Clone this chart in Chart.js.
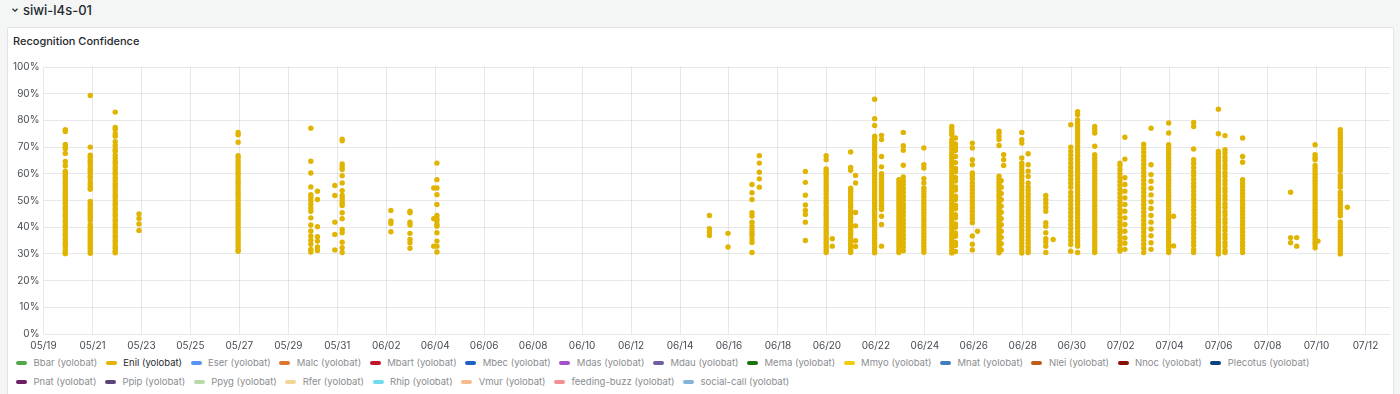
<!DOCTYPE html>
<html>
<head>
<meta charset="utf-8">
<title>siwi-l4s-01 - Recognition Confidence</title>
<script src="https://cdn.jsdelivr.net/npm/chart.js@4.4.0/dist/chart.umd.min.js"></script>
<style>
  html, body { margin: 0; padding: 0; }
  body {
    width: 1400px; height: 394px; overflow: hidden; position: relative;
    background: #f4f5f5; font-family: Inter, "Noto Sans", sans-serif; color: #24292e;
  }
  #row-title {
    position: absolute; left: 11px; top: 1px; height: 18px;
    display: flex; align-items: center; font-size: 13px; font-weight: 500;
  }
  #row-title svg { margin-right: 4px; }
  #panel {
    position: absolute; left: 7px; top: 27px; width: 1385px; height: 380px;
    background: #fff; border: 1px solid #e1e3e6; border-radius: 2px;
  }
  #panel-title {
    position: absolute; left: 13px; top: 33px; font-size: 11px; font-weight: 500; line-height: 16px;
  }
  #chart-box { position: absolute; left: 0; top: 52px; width: 1400px; height: 300px; }
  #legend {
    position: absolute; left: 16px; top: 353px; width: 1376px;
    display: flex; flex-wrap: wrap; font-size: 9.5px; color: #8a8d91;
  }
  .item { display: flex; align-items: center; height: 19px; margin-right: 8.5px; }
  .item i { display: inline-block; width: 11px; height: 4px; border-radius: 2px; margin-right: 6.5px; }
  .item.on { color: #24292e; }
</style>
</head>
<body>
<div id="row-title">
  <svg width="8" height="8" viewBox="0 0 8 8"><path d="M1.5 2.8 L4 5.2 L6.5 2.8" fill="none" stroke="#24292e" stroke-width="1.2"/></svg>
  <span>siwi-l4s-01</span>
</div>
<div id="panel"></div>
<div id="panel-title">Recognition Confidence</div>
<div id="chart-box"><canvas id="scatterChart" width="1400" height="300"></canvas></div>
<div id="legend"></div>

<script>
const seriesNames = ["Bbar", "Enil", "Eser", "Malc", "Mbart", "Mbec", "Mdas", "Mdau", "Mema", "Mmyo", "Mnat",
  "Nlei", "Nnoc", "Plecotus", "Pnat", "Ppip", "Ppyg", "Rfer", "Rhip", "Vmur", "feeding-buzz", "social-call"];
const seriesColors = ["#56a64b", "#e0b400", "#5794f2", "#e0752d", "#c4162a", "#1f60c4", "#a352cc", "#705da0",
  "#19730e", "#f2cc0c", "#447ebc", "#c15c17", "#890f02", "#0a437c", "#6d1f62", "#584477", "#b7dbab", "#f4d598",
  "#70dbed", "#f9ba8f", "#f29191", "#82b5d8"];
const tickLabels = ["05/19", "05/21", "05/23", "05/25", "05/27", "05/29", "05/31", "06/02", "06/04", "06/06",
  "06/08", "06/10", "06/12", "06/14", "06/16", "06/18", "06/20", "06/22", "06/24", "06/26", "06/28", "06/30",
  "07/02", "07/04", "07/06", "07/08", "07/10", "07/12"];

// Enil detections, grouped by recording session: days after 05/19 00:00, confidence in %
const sessionDays = [0.89, 1.91, 2.93, 3.90, 7.95, 10.92, 11.19, 11.90, 12.20, 14.19, 14.97, 15.94, 16.07,
  27.20, 27.96, 28.94, 29.24, 31.12, 31.97, 32.22, 32.97, 33.17, 33.95, 34.23, 34.94, 35.12, 35.96, 37.10,
  37.25, 37.94, 38.15, 39.03, 39.12, 39.22, 39.96, 40.22, 40.94, 41.24, 41.96, 42.24, 42.94, 43.97, 44.17,
  44.94, 45.24, 45.96, 46.16, 46.98, 47.99, 48.26, 48.98, 50.94, 51.19, 51.94, 52.06, 52.97, 53.26];
const sessionScores = [
  [76.5, 75.8, 71, 70, 69.4, 67.6, 64.6, 63, 61, 60.2, 59.3, 58.5, 57.4, 56.6, 55.5, 54.7, 53.6, 52.8, 51.9, 51.2, 50.3, 49.4, 48.6, 47.5, 46.7, 45.8, 44.6, 43.9, 42.8, 41.9, 40.7, 39.8, 38.9, 37.6, 36.8, 35.7, 34.5, 33.6, 32.7, 31.5, 30.6, 30.1],
  [89.3, 70, 67, 66.2, 65.1, 64.2, 63.3, 62.1, 61.2, 60.4, 59.1, 58.3, 56.9, 56, 55.1, 54.2, 49.6, 48.8, 47.9, 47, 46.1, 45.2, 44.3, 43.4, 42.5, 40.9, 40.1, 39.2, 38.3, 37.4, 36.5, 35.6, 34.7, 33.8, 32.9, 32, 31.1, 30.2],
  [83.1, 77.4, 76.6, 75, 74.1, 72, 70.6, 69.2, 68.4, 67, 65.8, 64.7, 63.8, 62.6, 61.7, 60.6, 59.7, 58.5, 57.6, 56.4, 55.5, 54.4, 53.3, 52.2, 51.3, 50.2, 49.1, 48.2, 47.1, 46.2, 45.1, 44.2, 43, 42.1, 41, 40.1, 39, 38.1, 37, 36.1, 35, 34.1, 33, 32.1, 31, 30.4],
  [45, 43.3, 41.2, 38.8],
  [75.5, 74.6, 71.8, 66.8, 65.9, 64.8, 63.9, 62.7, 61.6, 60.5, 59.6, 58.4, 57.3, 56.4, 55.2, 54.1, 53, 52.1, 51, 49.9, 48.8, 47.8, 46.7, 45.6, 44.5, 43.4, 42.4, 41.3, 40.2, 39.1, 38.1, 37, 35.9, 34.8, 33.8, 32.7, 31.6, 31],
  [77.1, 64.7, 60.3, 55.1, 52.2, 51.1, 50, 48.6, 47.2, 46, 43.5, 40.8, 38.6, 36.7, 35.1, 33.6, 31.7, 30.7],
  [53.5, 50.4, 40.2, 36.4, 34.8, 32.6, 31.3],
  [55.6, 51.9, 41.9, 37.3, 31.5],
  [73, 72.4, 63.7, 62.6, 61.6, 59.3, 56.6, 53.7, 51.9, 50.9, 49.9, 49, 48.1, 45.4, 43.2, 39.2, 37.9, 34.4, 32.3, 30.5],
  [46.3, 42.3, 41.4, 38.3],
  [46, 45.4, 41.9, 40.8, 37.7, 35.4, 34.2, 32.1],
  [54.7, 43.2, 32.9],
  [64, 57.8, 54.7, 52.2, 48.5, 44.4, 43.2, 42.3, 41, 40.4, 37.9, 34.8, 32.9, 30.7],
  [44.4, 39.4, 38.2, 36.9],
  [37.7, 32.6],
  [56, 52.9, 50.4, 45.4, 44.2, 41.9, 40.4, 39.1, 38, 37, 35.6, 34.3, 30.5],
  [66.8, 64, 60.6, 58.1, 55],
  [60.9, 56.8, 52, 48.3, 46.3, 44.8, 41.9, 35],
  [66.8, 65.3, 61.8, 61, 60, 59, 57.9, 56.6, 55.5, 54.4, 53.4, 52.3, 51, 49.9, 48.9, 47.6, 46.5, 45.4, 44.5, 43.4, 42.4, 41.4, 40.4, 39.4, 38.4, 37.5, 36.4, 35.4, 34.4, 33.5, 32.4, 31.4, 30.5],
  [35.7, 32.9],
  [68.2, 62.4, 61.3, 54.6, 53.5, 52.5, 51.4, 50.4, 49.5, 48.4, 47.4, 46.3, 45.3, 44.2, 43.3, 42.2, 41.2, 40.3, 39.2, 38.2, 37.3, 36.2, 35.2, 34.1, 33.2, 32.2, 31.3, 30.5],
  [59.4, 56.6, 45.5, 40.5, 34.9, 32.8],
  [87.9, 80.6, 78.1, 74.1, 73.2, 72.1, 71, 69.8, 68.9, 67.7, 66.8, 65.6, 64.5, 63.4, 62.3, 61.3, 60.1, 59, 57.9, 56.8, 55.7, 54.6, 53.5, 52.4, 51.3, 50.2, 49.1, 48, 46.9, 45.8, 44.7, 43.6, 42.5, 41.4, 40.3, 39.2, 38.1, 37, 35.9, 34.8, 33.7, 32.6, 31.5, 30.4],
  [74.4, 72.8, 66.5, 62.6, 60, 59, 58.1, 57.1, 56, 55.1, 54, 53.1, 52, 51, 50.1, 49, 48, 47, 46.6, 44.1, 41, 32.9],
  [57.8, 56.7, 55.5, 54.4, 53.2, 52.1, 51, 49.8, 48.7, 47.5, 46.4, 45.3, 44.1, 43, 41.9, 40.7, 39.6, 38.4, 37.3, 36.2, 35, 33.9, 32.8, 31.6, 30.5],
  [75.5, 70.5, 68.8, 63.2, 58.8, 57.3, 55.9, 54.4, 53, 51.5, 50.1, 48.6, 47.2, 45.7, 44.3, 42.8, 41.4, 39.9, 38.5, 37, 35.6, 34.1, 32.7, 31.2],
  [69.7, 63.4, 62.2, 58.2, 56.6, 54.7, 53.6, 52.4, 51.3, 50.1, 49, 47.8, 46.7, 45.5, 44.4, 43.2, 42.1, 40.9, 39.8, 38.6, 37.5, 36.3, 35.2, 34, 32.9, 31.7, 30.6],
  [77.7, 76.5, 75.5, 74.6, 72.8, 71.7, 70.5, 69.4, 68.2, 67.1, 65.9, 64.8, 63.6, 62.5, 61.3, 60.2, 59, 57.9, 56.7, 55.6, 54.4, 53.3, 52.1, 51, 49.8, 48.7, 47.5, 46.4, 45.2, 44.1, 42.9, 41.8, 40.6, 39.5, 38.3, 37.2, 36, 34.9, 33.7, 32.6, 31.4, 30.3],
  [73.4, 71.2, 69.9, 68.7, 66.5, 64.2, 62, 60.8, 58.6, 57.3, 55.1, 53.9, 51.6, 50.4, 48.2, 46.9, 44.7, 43.5, 41.2, 40, 37.8, 36.6, 34.3, 33.1, 30.9],
  [71.5, 69.7, 65.3, 63.4, 60.3, 59.4, 58.1, 56.6, 55.3, 54, 52.7, 51.3, 50, 48.7, 47.3, 46, 44.6, 43.2, 41.7, 36.7, 33.6, 31.5],
  [38.5],
  [76, 75.3, 74, 72.8, 70.6, 59.1, 58, 56.8, 55.7, 54.5, 53.4, 52.2, 51.1, 49.9, 48.8, 47.6, 46.5, 45.3, 44.2, 43, 41.9, 40.7, 39.6, 38.4, 37.3, 36.1, 35, 33.8, 32.7, 31.5, 30.4],
  [57.4, 55, 52.6, 50.3, 47.9, 45.6, 43.2, 40.9, 38.5, 36.2, 33.8, 31.5],
  [67.2, 65.3, 63.1],
  [75.5, 72.8, 71.5, 65.9, 64, 62.8, 61.5, 60.3, 59, 57.8, 56.5, 55.3, 54, 52.8, 51.5, 50.3, 49, 47.8, 46.5, 45.3, 44, 42.8, 41.5, 40.3, 39, 37.8, 36.5, 35.3, 34, 32.8, 31.5, 30.3],
  [67.5, 63.4, 61, 59, 56.6, 55, 53.8, 52.5, 51.3, 50, 48.8, 47.5, 46.3, 45, 43.8, 42.5, 41.3, 40, 38.8, 37.5, 36.3, 35, 33.8, 32.5, 31.3, 30.5],
  [51.9, 50.4, 49, 47.5, 46, 41.7, 40.4, 37.9, 35.7, 34.5, 32.9, 30.5],
  [35.4],
  [78.4, 70, 68.5, 67, 65.5, 64, 62.5, 61, 59.5, 58, 56.5, 55, 53, 51.5, 50, 48.5, 47, 45.5, 44, 42.5, 41, 39.5, 38, 36.5, 35, 33.5, 31],
  [83.3, 82.1, 80.2, 79, 77.8, 76.5, 75.3, 74.1, 72.9, 71.6, 70.4, 69.2, 68, 66.7, 65.5, 64.3, 63.1, 61.8, 60.6, 59.4, 58.2, 56.9, 55.7, 54.5, 53.3, 52, 50.8, 49.6, 48.4, 47.1, 45.9, 44.7, 43.5, 42.2, 41, 39.8, 38.6, 37.3, 36.1, 34.9, 33.7, 32.9, 30.5],
  [77.7, 76.5, 75.3, 70.3, 67.2, 66, 64.8, 63.6, 62.4, 61.2, 60, 58.8, 57.6, 56.4, 55.2, 54, 52.8, 51.6, 50.4, 49.2, 48, 46.8, 45.6, 44.4, 43.2, 42, 40.8, 39.6, 38.4, 37.2, 36, 34.8, 33.6, 32.4, 31.2, 30.5],
  [64, 63, 61.5, 60, 58.5, 57.1, 55.6, 54.1, 52.6, 51.1, 49.6, 48.2, 46.7, 45.2, 43.7, 42.2, 40.8, 39.3, 37.8, 36.3, 34.8, 33.3, 31.9, 31.1],
  [73.7, 65.5, 58.5, 56, 53.5, 51, 48.5, 46, 43.5, 41, 38.5, 36, 34, 31.7],
  [71.1, 69.6, 68.1, 66.6, 65.1, 63.6, 62.1, 60.6, 59.1, 57.6, 56.1, 54.6, 53.1, 51.6, 50.1, 48.6, 47.1, 45.6, 44.1, 42.6, 41.1, 39.6, 38.1, 36.6, 35.1, 33.6, 32.1, 30.5],
  [77.1, 63.4, 59.7, 57.2, 54.6, 52.1, 49.5, 47, 44.4, 41.9, 39.3, 36.8, 34.2, 31.7],
  [79, 75.3, 70.9, 69.7, 68.5, 67.3, 66.1, 64.9, 63.7, 62.5, 61.3, 60.1, 58.9, 57.7, 56.5, 55.3, 54.1, 52.9, 51.7, 50.5, 49.3, 48.1, 46.9, 45.7, 44.5, 43.3, 42.1, 40.9, 39.7, 38.5, 37.3, 36.1, 34.9, 33.7, 32.5, 31.3, 30.5],
  [44.1, 33],
  [79.2, 77.7, 69.3, 65.3, 63.9, 62.4, 60.9, 59.5, 58, 56.5, 55.1, 53.6, 52.1, 50.7, 49.2, 47.7, 46.3, 44.8, 43.3, 41.9, 40.4, 38.9, 37.5, 36, 34.5, 33.1, 31.6, 30.5],
  [84.2, 75, 68.4, 67.3, 66.2, 65.1, 64, 62.9, 61.8, 60.7, 59.6, 58.5, 57.4, 56.3, 55.2, 54.1, 53, 51.9, 50.8, 49.7, 48.6, 47.5, 46.4, 45.3, 44.2, 43.1, 42, 40.9, 39.8, 38.7, 37.6, 36.5, 35.4, 34.3, 33.2, 32.1, 31, 30],
  [74.3, 69, 67.8, 66.2, 64.9, 63.3, 62, 60.4, 59.1, 57.5, 56.2, 54.6, 53.3, 51.7, 50.4, 48.8, 47.5, 45.9, 44.6, 43, 41.7, 40.1, 38.8, 37.2, 35.9, 34.3, 33, 31.4, 30.5],
  [73.4, 66.5, 64.3, 57.8, 56.5, 55.2, 53.9, 52.6, 51.3, 50, 48.7, 47.4, 46.1, 44.8, 43.5, 42.2, 40.9, 39.6, 38.3, 37, 35.7, 34.4, 33.1, 31.8, 30.5],
  [53.1, 36.1, 34.2],
  [36.1, 32.9],
  [70.9, 67.2, 66.1, 65.3, 63.1, 62, 60.9, 59.8, 58.7, 57.6, 56.5, 55.4, 54.3, 53.2, 52.1, 51, 49.9, 48.8, 47.7, 46.6, 45.5, 44.4, 43.3, 42.2, 41.1, 40, 38.9, 37.8, 36.7, 35.6, 34.5, 33.4, 32.3],
  [34.8],
  [76.5, 75.4, 74.3, 73.2, 72.1, 71, 69.9, 68.8, 67.7, 66.6, 65.5, 64.4, 63.3, 62.2, 61.1, 59.3, 58.2, 57.1, 56, 55, 53.1, 52, 50.9, 49.8, 48.7, 47.6, 46.5, 45.4, 44.3, 42, 40.9, 39.8, 38.7, 37.6, 36.5, 35.4, 34.3, 33.2, 32.1, 31, 30],
  [47.5]
];

const enilPoints = sessionDays.flatMap((d, i) => sessionScores[i].map(v => ({ x: d, y: v })));

const tickFont = { family: "Inter", size: 10 };
const gridColor = "rgba(0, 0, 0, 0.09)";

const chart = new Chart(document.getElementById("scatterChart"), {
  type: "scatter",
  data: {
    datasets: seriesNames.map((name, i) => ({
      label: name + " (yolobat)",
      data: name === "Enil" ? enilPoints : [],
      backgroundColor: seriesColors[i],
      borderColor: seriesColors[i],
      borderWidth: 0,
      pointRadius: 2.7
    }))
  },
  options: {
    responsive: false,
    animation: false,
    layout: { padding: { left: 0, right: 10, top: 15, bottom: 0 } },
    plugins: { legend: { display: false }, tooltip: { enabled: false } },
    scales: {
      x: {
        type: "linear",
        min: 0,
        max: 55,
        border: { display: false },
        grid: { color: gridColor, drawTicks: false },
        afterBuildTicks: scale => { scale.ticks = tickLabels.map((t, i) => ({ value: i * 2 })); },
        afterFit: scale => { scale.height = 18; },
        ticks: {
          autoSkip: false,
          maxRotation: 0,
          padding: 6,
          color: "#464c54",
          font: tickFont,
          callback: value => tickLabels[Math.round(value / 2)]
        }
      },
      y: {
        min: 0,
        max: 100,
        border: { display: false },
        grid: { color: gridColor, drawTicks: false },
        afterFit: scale => { scale.width = 43.5; },
        ticks: {
          stepSize: 10,
          padding: 4,
          color: "#464c54",
          font: tickFont,
          callback: value => value + "%"
        }
      }
    }
  }
});

// Legend (Grafana style, below the plot)
const legend = document.getElementById("legend");
chart.data.datasets.forEach(ds => {
  const item = document.createElement("div");
  item.className = "item" + (ds.data.length ? " on" : "");
  item.innerHTML = `<i style="background:${ds.borderColor}"></i><span>${ds.label}</span>`;
  legend.appendChild(item);
});
</script>
</body>
</html>
